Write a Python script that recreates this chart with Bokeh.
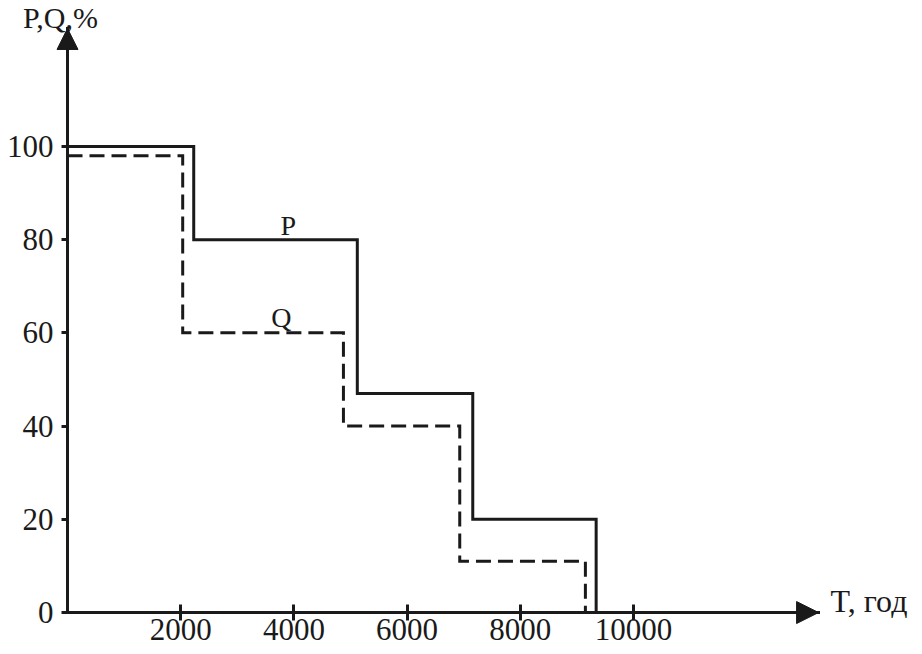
from bokeh.plotting import figure
from bokeh.models import Arrow, NormalHead, Label, Range1d, FixedTicker
from bokeh.embed import file_html
from bokeh.resources import INLINE

# ---- data ----
p_edges = [0, 2230, 5120, 7160, 9340]      # T, hours: step edges for P
p_levels = [100, 80, 47, 20, 0]            # P, %
q_edges = [0, 2035, 4875, 6930, 9150]      # T, hours: step edges for Q
q_levels = [98, 60, 40, 11, 0]             # Q, %
x_ticks = [2000, 4000, 6000, 8000, 10000]
y_ticks = [0, 20, 40, 60, 80, 100]

# view extents (data units) and axis extents
X_MIN, X_MAX = -1184, 15106
Y_MIN, Y_MAX = -9.0, 131.3
X_AXIS_END = 13270
Y_AXIS_END = 125.3
INK = "#1a1a1a"
FONT = "Liberation Serif"

p = figure(width=922, height=654, output_backend="svg", toolbar_location=None,
           x_range=Range1d(X_MIN, X_MAX), y_range=Range1d(Y_MIN, Y_MAX),
           min_border_left=0, min_border_right=0, min_border_top=0,
           min_border_bottom=0)
p.grid.visible = False
p.outline_line_color = None
p.background_fill_color = "white"
p.border_fill_color = "white"

for ax in (p.xaxis[0], p.yaxis[0]):
    ax.fixed_location = 0
    ax.axis_line_color = INK
    ax.axis_line_width = 3
    ax.axis_line_cap = "square"
    ax.major_tick_line_color = INK
    ax.major_tick_line_width = 3
    ax.minor_tick_line_color = None
    ax.major_label_text_font = FONT
    ax.major_label_text_color = INK

p.xaxis.bounds = (0, X_AXIS_END)
p.xaxis.ticker = FixedTicker(ticks=x_ticks)
p.xaxis.major_tick_in = 8
p.xaxis.major_tick_out = 8
p.xaxis.major_label_standoff = -2
p.xaxis.major_label_text_font_size = "31px"

p.yaxis.bounds = (0, Y_AXIS_END)
p.yaxis.ticker = FixedTicker(ticks=y_ticks)
p.yaxis.major_tick_in = 0
p.yaxis.major_tick_out = 6
p.yaxis.major_label_standoff = 8
p.yaxis.major_label_text_font_size = "31px"

# P (solid) and Q (dashed) step curves
p.step(x=p_edges, y=p_levels, mode="after", line_color=INK, line_width=3,
       line_join="miter")
p.step(x=q_edges, y=q_levels, mode="after", line_color=INK, line_width=3,
       line_dash="15 7", line_join="miter")

# axis arrows
p.add_layout(Arrow(end=NormalHead(size=22, fill_color=INK, line_color=INK),
                   x_start=X_AXIS_END - 600, y_start=0, x_end=X_AXIS_END, y_end=0,
                   line_color=INK, line_width=3))
p.add_layout(Arrow(end=NormalHead(size=21, fill_color=INK, line_color=INK),
                   x_start=0, y_start=Y_AXIS_END - 5, x_end=0, y_end=Y_AXIS_END,
                   line_color=INK, line_width=3))

# texts
p.add_layout(Label(x=X_AXIS_END, y=0, x_offset=12, y_offset=12, text="T, год",
                   text_font=FONT, text_font_size="32px", text_color=INK,
                   text_baseline="middle", text_align="left"))
p.add_layout(Label(x=0, y=Y_AXIS_END, x_offset=-7, y_offset=11, text="P,Q,%",
                   text_font=FONT, text_font_size="30px", text_color=INK,
                   text_baseline="middle", text_align="center"))
p.add_layout(Label(x=3900, y=80, y_offset=14, text="P",
                   text_font=FONT, text_font_size="28px", text_color=INK,
                   text_baseline="middle", text_align="center"))
p.add_layout(Label(x=3780, y=60, y_offset=15, text="Q",
                   text_font=FONT, text_font_size="28px", text_color=INK,
                   text_baseline="middle", text_align="center"))

open("out.html", "w").write(file_html(p, INLINE))
